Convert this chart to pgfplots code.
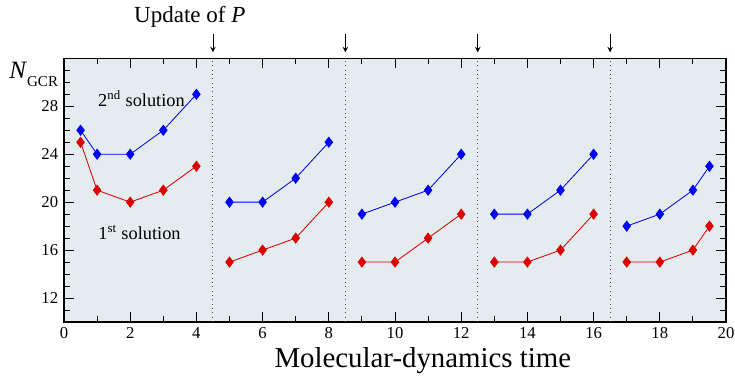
\documentclass[border=0pt]{standalone}
\usepackage{fontspec}
\setmainfont{Liberation Serif}
\usepackage{pgfplots}
\pgfplotsset{compat=1.18}
\definecolor{bgc}{RGB}{228,236,239}
\definecolor{myblue}{RGB}{0,0,245}
\definecolor{myred}{RGB}{220,0,0}
\begin{document}
\begin{tikzpicture}
\begin{axis}[
  scale only axis, width=397.2pt, height=158.2pt,
  at={(0,0)}, anchor=south west,
  xmin=0, xmax=20, ymin=10, ymax=32,
  xtick={0,2,...,20}, minor xtick={1,3,...,19},
  ytick={12,16,...,28}, minor ytick={10,11,...,31},
  tick align=inside, major tick length=6pt, minor tick length=3.5pt,
  every tick/.style={black, line width=0.6pt},
  axis line style={line width=0.8pt},
  tick label style={font=\fontsize{10}{12}\selectfont},
  /pgf/number format/assume math mode=true,
  xlabel={\fontsize{17.3}{19}\selectfont Molecular-dynamics time},
  xlabel style={at={(axis description cs:0.542,0)}, anchor=base, yshift=-27.3pt},
  axis background/.style={fill=bgc},
  clip=false,
]
\pgfplotsinvokeforeach{4.5,8.5,12.5,16.5}{
  \draw[dotted, line width=0.6pt, black!70] (axis cs:#1,10) -- (axis cs:#1,32);
  \draw[->, >=stealth, line width=0.5pt] (axis cs:#1,34.0) -- (axis cs:#1,32.5);
}
\pgfplotsset{bl/.style={myblue, line width=0.5pt, mark=diamond*, mark size=3pt, mark options={solid, fill=myblue, draw=myblue}},
             rd/.style={myred, line width=0.5pt, mark=diamond*, mark size=3pt, mark options={solid, fill=myred, draw=myred}}}
\addplot[bl] coordinates {(0.5,26) (1,24) (2,24) (3,26) (4,29)};
\addplot[bl] coordinates {(5,20) (6,20) (7,22) (8,25)};
\addplot[bl] coordinates {(9,19) (10,20) (11,21) (12,24)};
\addplot[bl] coordinates {(13,19) (14,19) (15,21) (16,24)};
\addplot[bl] coordinates {(17,18) (18,19) (19,21) (19.5,23)};
\addplot[rd] coordinates {(0.5,25) (1,21) (2,20) (3,21) (4,23)};
\addplot[rd] coordinates {(5,15) (6,16) (7,17) (8,20)};
\addplot[rd] coordinates {(9,15) (10,15) (11,17) (12,19)};
\addplot[rd] coordinates {(13,15) (14,15) (15,16) (16,19)};
\addplot[rd] coordinates {(17,15) (18,15) (19,16) (19.5,18)};
\node[font=\fontsize{11}{12}\selectfont] at (axis cs:2.34,28.65) {2\textsuperscript{nd} solution};
\node[font=\fontsize{11}{12}\selectfont] at (axis cs:2.28,17.47) {1\textsuperscript{st} solution};
\node[font=\fontsize{13.8}{15}\selectfont] at (axis cs:3.8,35.5) {Update of \textit{P}};
\end{axis}
\node[anchor=base west, inner sep=0pt] at (-33pt,145.8pt) {\fontsize{15}{17}\selectfont\textit{N}\raisebox{-4.4pt}{\fontsize{9}{10}\selectfont GCR}};
\pgfresetboundingbox
\path (-38.4pt,-31.8pt) rectangle (402.6pt,193.2pt);
\end{tikzpicture}
\end{document}
